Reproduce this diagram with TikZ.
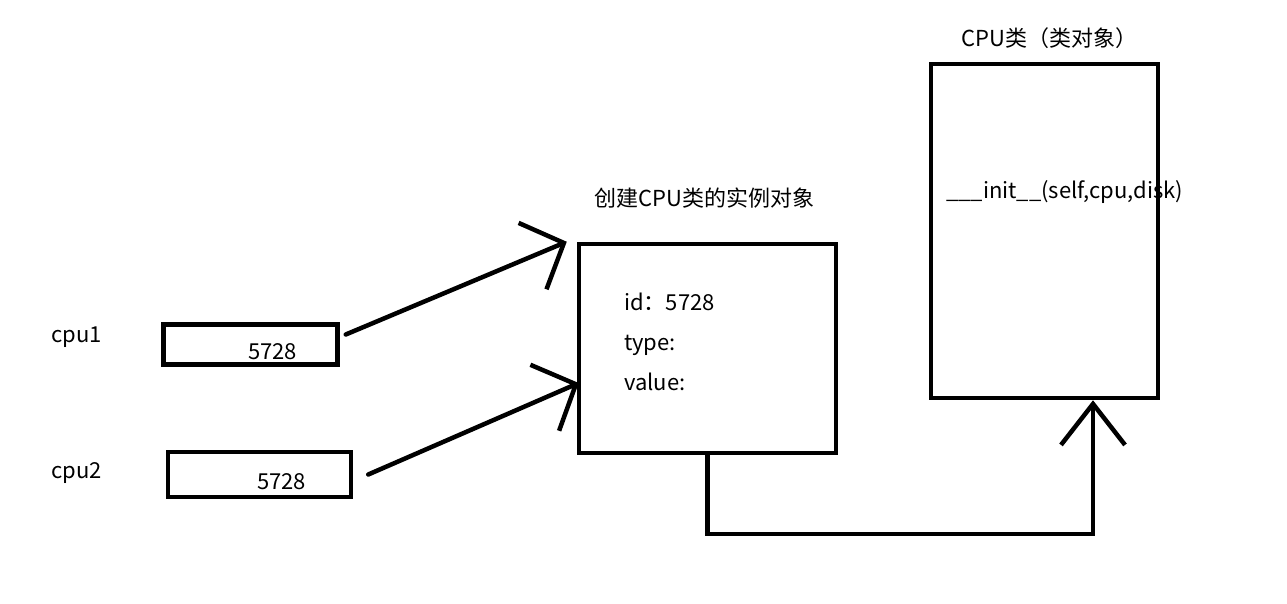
\documentclass[tikz,border=0pt]{standalone}
\usepackage{fontspec}
\setmainfont{Noto Sans CJK SC}
\usetikzlibrary{arrows.meta,calc}
\begin{document}
\begin{tikzpicture}[x=1pt,y=-1pt,
  font=\fontsize{22}{26}\selectfont,
  box/.style={draw,line width=4.5pt,inner sep=0pt},
  txt/.style={anchor=base west,inner sep=0pt},
  arr/.style={line width=4.5pt,line cap=round,
    -{Straight Barb[length=34pt,width=72pt,line width=4.5pt]}},
  uparr/.style={line width=4.5pt,
    -{Straight Barb[length=41pt,width=64pt,line width=4.5pt]}}]
\useasboundingbox (0,0) rectangle (1287,604);
\node[box,minimum width=174pt,minimum height=40pt] (cpu1box) at (250.5,344.5) {};
\node[box,minimum width=183pt,minimum height=45pt] (cpu2box) at (259.5,474.5) {};
\node[box,minimum width=257pt,minimum height=209pt] (inst) at (707.5,348.5) {};
\node[box,minimum width=227pt,minimum height=334pt] (cls) at (1044.5,231) {};
\node[txt] (lbl1) at (51,342) {cpu1};
\node[txt] (lbl2) at (51,478) {cpu2};
\node[txt] (val1) at (248,359) {5728};
\node[txt] (val2) at (257,489) {5728};
\node[txt] (insttitle) at (594,207) {创建CPU类的实例对象};
\node[txt] (id) at (624,310) {id：5728};
\node[txt] (type) at (624,350) {type:};
\node[txt] (value) at (624,390) {value:};
\node[txt] (clstitle) at (961,47) {CPU类（类对象）};
\node[txt] (init) at (946,199) {\_\_\_init\_\_(self,cpu,disk)};
\draw[arr] ($(cpu1box.east)+(6,-10)$) -- ($(inst.north west)+(-10,0)$);
\draw[arr] ($(cpu2box.east)+(15,0)$) -- ($(inst.west)+(2,34.5)$);
\coordinate (turn) at (1093,534);
\draw[uparr] (inst.south) |- (turn) -- ($(cls.south)+(48.5,0)$);
\end{tikzpicture}
\end{document}
